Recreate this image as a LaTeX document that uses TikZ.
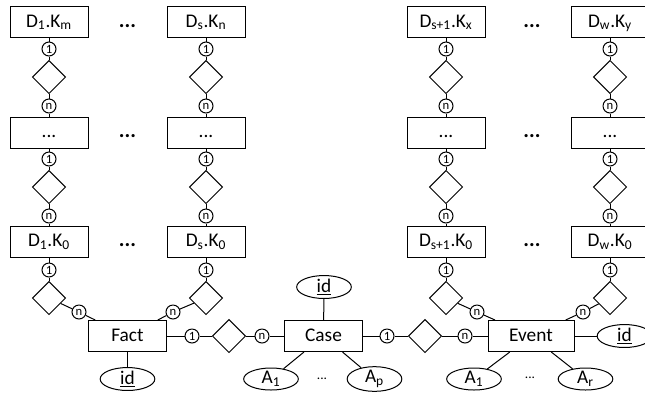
\documentclass[tikz,border=0pt]{standalone}
\usepackage{fontspec}
\setmainfont{Carlito}
\usetikzlibrary{shapes.geometric}

\tikzset{
  entity/.style={draw, minimum width=58.5pt, minimum height=23.25pt, inner sep=0pt,
    text height=10pt, text depth=2.5pt, font=\fontsize{14.5}{16}\selectfont},
  card/.style={circle, draw, inner sep=0pt, minimum size=10.5pt, font=\fontsize{9.5}{10}\selectfont},
  rel/.style={diamond, draw, inner sep=0pt, minimum size=25pt},
  attr/.style={ellipse, draw, inner sep=0pt, minimum width=41pt, minimum height=16.5pt,
    font=\fontsize{14.5}{16}\selectfont},
  gap/.style={text height=10pt, text depth=2.5pt, font=\fontsize{16}{18}\selectfont\bfseries},
}

\begin{document}
\begin{tikzpicture}[x=0.75pt, y=-0.75pt, line width=0.75pt]
    \clip (0,0) rectangle (645,394);

    % Dimension columns
    \foreach \col/\x/\tl/\bl in {
        a/49/{D\textsubscript{1}.K\textsubscript{m}}/{D\textsubscript{1}.K\textsubscript{0}},
        b/206/{D\textsubscript{s}.K\textsubscript{n}}/{D\textsubscript{s}.K\textsubscript{0}},
        c/446/{D\textsubscript{s+1}.K\textsubscript{x}}/{D\textsubscript{s+1}.K\textsubscript{0}},
        d/610/{D\textsubscript{w}.K\textsubscript{y}}/{D\textsubscript{w}.K\textsubscript{0}}} {
        \node[entity] (\col top) at (\x,22) {\tl};
        \node[card] (\col 1a) at (\x,49) {1};
        \node[rel] (\col ra) at (\x,77) {};
        \node[card] (\col na) at (\x,106) {n};
        \node[entity] (\col mid) at (\x,132.5) {...};
        \node[card] (\col 1b) at (\x,159) {1};
        \node[rel] (\col rb) at (\x,187) {};
        \node[card] (\col nb) at (\x,216) {n};
        \node[entity] (\col bot) at (\x,241.5) {\bl};
        \node[card] (\col 1c) at (\x,270) {1};
        \node[rel] (\col rc) at (\x,298) {};
        \draw (\col top) -- (\col 1a) -- (\col ra) -- (\col na) -- (\col mid)
            -- (\col 1b) -- (\col rb) -- (\col nb) -- (\col bot) -- (\col 1c) -- (\col rc);
    }

    % dots between the columns
    \node[gap] (ldots1) at (127.5,22) {...};
    \node[gap] (ldots2) at (127.5,132.5) {...};
    \node[gap] (ldots3) at (127.5,241.5) {...};
    \node[gap] (rdots1) at (532,22) {...};
    \node[gap] (rdots2) at (532,132.5) {...};
    \node[gap] (rdots3) at (532,241.5) {...};

    % Fact, Case and Event
    \node[entity] (fact) at (127.5,336) {Fact};
    \node[entity] (case) at (323.5,336) {Case};
    \node[entity, minimum width=64.5pt] (event) at (531,336) {Event};

    % dimensions to Fact and Event
    \node[card] (an) at (79,312) {n};
    \node[card] (bn) at (173,312) {n};
    \node[card] (cn) at (477,312) {n};
    \node[card] (dn) at (583,312) {n};
    \draw (arc) -- (an) -- (fact);
    \draw (brc) -- (bn) -- (fact);
    \draw (crc) -- (cn) -- (event);
    \draw (drc) -- (dn) -- (event);

    % Fact to Case
    \node[card] (fc1) at (192,336) {1};
    \node[rel] (fcr) at (229,336) {};
    \node[card] (fcn) at (262,336) {n};
    \draw (fact) -- (fc1) -- (fcr) -- (fcn) -- (case);

    % Case to Event
    \node[card] (ce1) at (387,336) {1};
    \node[rel] (cer) at (425,336) {};
    \node[card] (cen) at (465,336) {n};
    \draw (case) -- (ce1) -- (cer) -- (cen) -- (event);

    % attributes
    \node[attr] (factid) at (127.5,379) {\underline{id}};
    \node[attr] (caseid) at (324,287) {\underline{id}};
    \node[attr] (casea1) at (271,379) {A\textsubscript{1}};
    \node[attr] (caseap) at (374.5,379) {A\textsubscript{p}};
    \node (casedots) at (322,379) {...};
    \node[attr] (eventid) at (624.5,336) {\underline{id}};
    \node[attr] (eventa1) at (474,379) {A\textsubscript{1}};
    \node[attr] (eventar) at (585.5,379) {A\textsubscript{r}};
    \node (eventdots) at (530,378) {...};
    \draw (fact) -- (factid);
    \draw (case) -- (caseid);
    \draw (case) -- (casea1);
    \draw (case) -- (caseap);
    \draw (event) -- (eventid);
    \draw (event) -- (eventa1);
    \draw (event) -- (eventar);
\end{tikzpicture}
\end{document}
